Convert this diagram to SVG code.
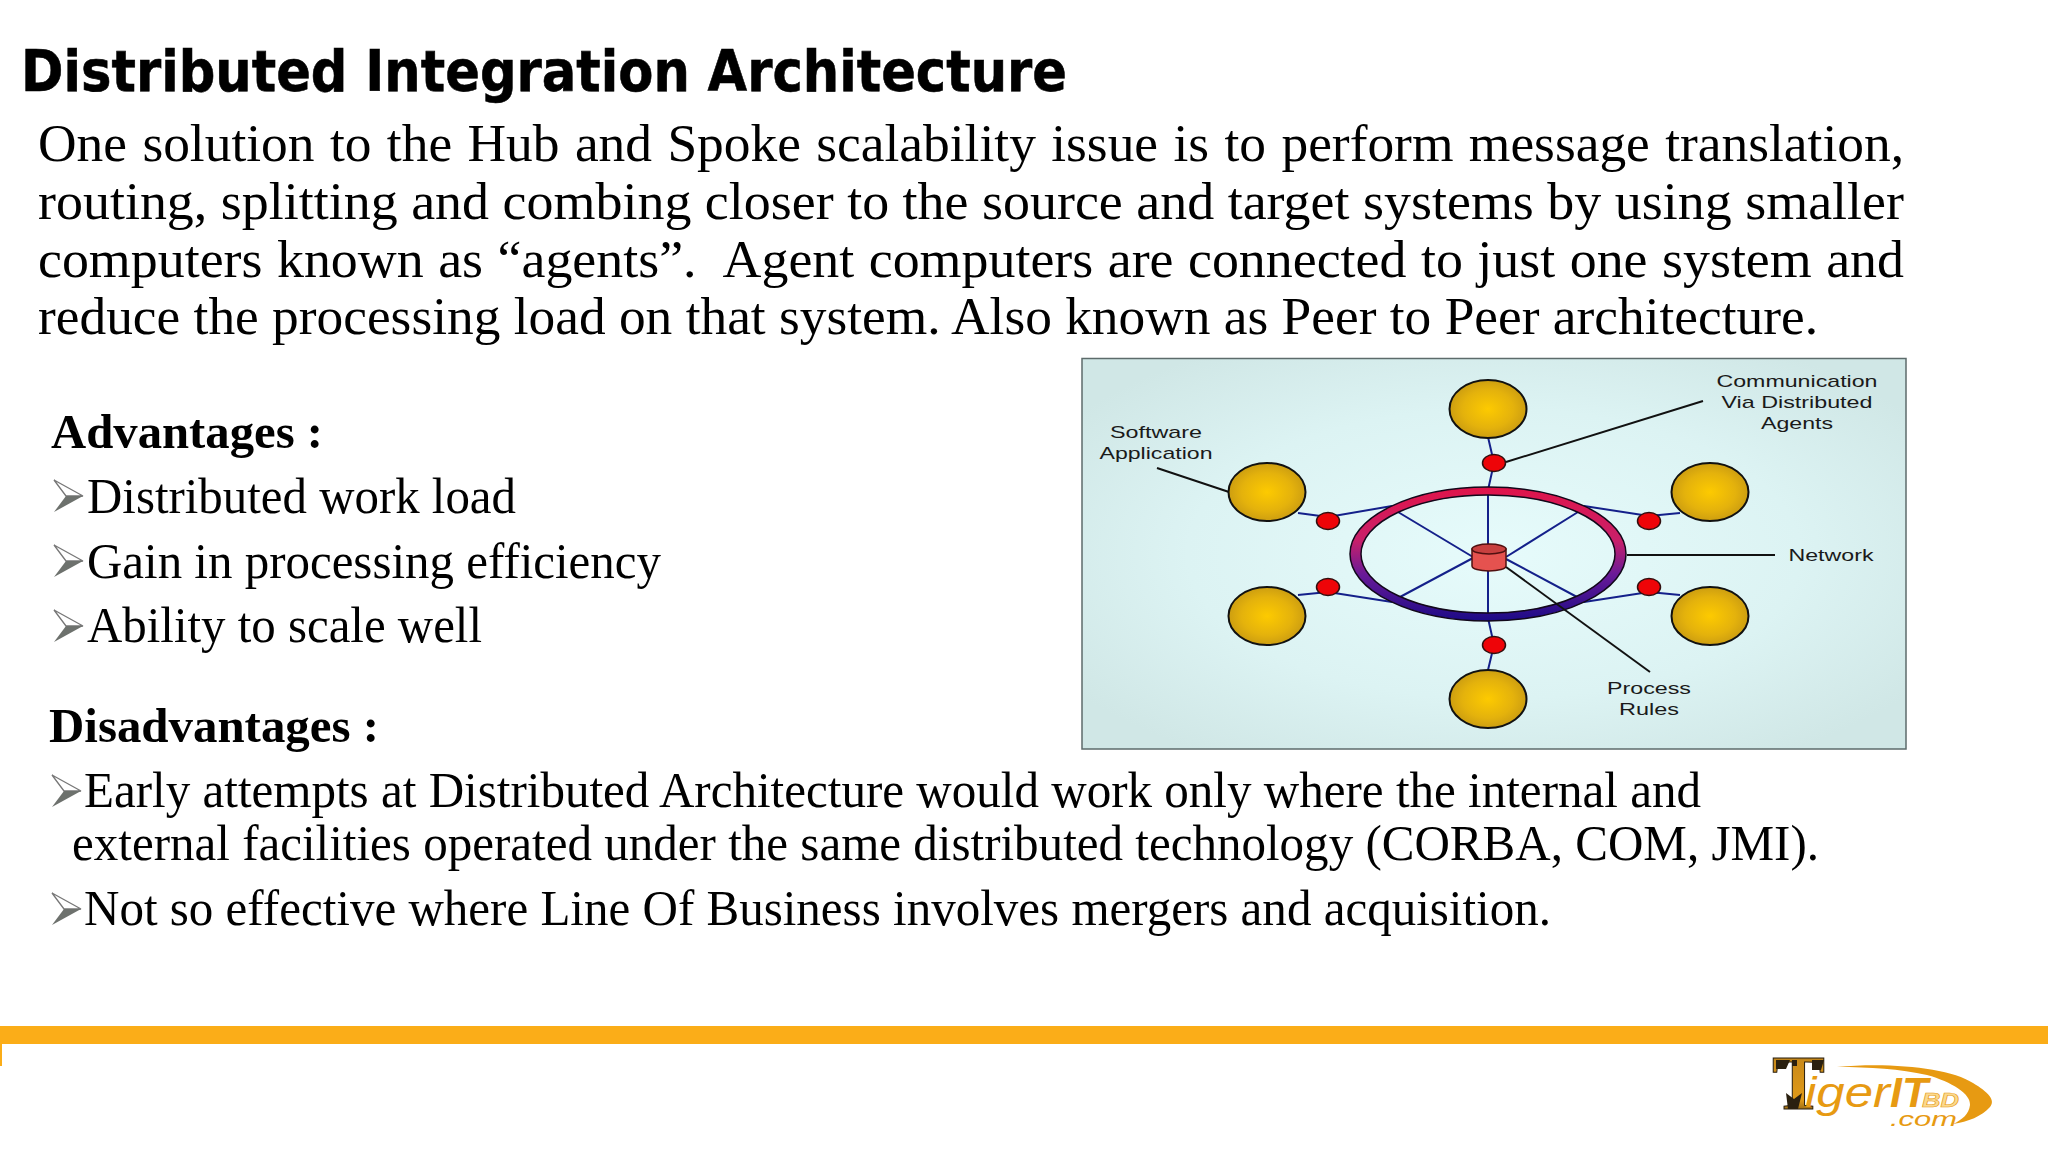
<svg xmlns="http://www.w3.org/2000/svg" width="2048" height="1152" viewBox="0 0 2048 1152">
<defs>
<radialGradient id="bg" cx="50%" cy="50%" r="62%"><stop offset="0" stop-color="#e6fbfb"/><stop offset="0.6" stop-color="#dcf3f3"/><stop offset="1" stop-color="#d0e7e6"/></radialGradient>
<radialGradient id="gold" cx="50%" cy="50%" r="55%"><stop offset="0" stop-color="#fdca00"/><stop offset="0.6" stop-color="#e4b20c"/><stop offset="1" stop-color="#c69812"/></radialGradient>
<linearGradient id="ring" x1="0" y1="0" x2="0" y2="1"><stop offset="0" stop-color="#e0144a"/><stop offset="0.4" stop-color="#c8206a"/><stop offset="0.65" stop-color="#6a1a98"/><stop offset="1" stop-color="#1c0a86"/></linearGradient>
<linearGradient id="tiger" x1="0" y1="0" x2="0" y2="1"><stop offset="0" stop-color="#4a3814"/><stop offset="0.25" stop-color="#c98a1a"/><stop offset="0.7" stop-color="#e09a18"/><stop offset="1" stop-color="#2a2010"/></linearGradient>
<style>
text{font-family:"Liberation Serif","Times New Roman",serif;fill:#000}
.title{font-family:"DejaVu Sans","Liberation Sans",sans-serif;font-weight:700;font-size:57px;stroke:#000;stroke-width:.6}
.body{font-size:52px}
.head{font-size:48px;font-weight:700}
.item{font-size:50px}
.lab{font-family:"Liberation Sans",Arial,sans-serif;font-size:17px;fill:#1a1a1a;text-anchor:middle}
.app{fill:url(#gold);stroke:#111;stroke-width:2}
.agent{fill:#ee0408;stroke:#301010;stroke-width:1.5}
.link{fill:none;stroke:#14208a;stroke-width:2}
.lead{fill:none;stroke:#111;stroke-width:2}
.bu1{fill:#fff;stroke:#777;stroke-width:1.3}
.bu2{fill:#6d716d}
.logo{font-family:"Liberation Sans",Arial,sans-serif;font-style:italic;fill:#e79a12}
</style>
</defs>
<rect width="2048" height="1152" fill="#fff"/>

<text class="title" x="21" y="91" textLength="1046" lengthAdjust="spacingAndGlyphs">Distributed Integration Architecture</text>

<g id="intro">
<text class="body" x="38" y="161" word-spacing="2" textLength="1866" lengthAdjust="spacingAndGlyphs">One solution to the Hub and Spoke scalability issue is to perform message translation,</text>
<text class="body" x="38" y="219" textLength="1866" lengthAdjust="spacingAndGlyphs">routing, splitting and combing closer to the source and target systems by using smaller</text>
<text class="body" x="38" y="277" word-spacing="1" textLength="1866" lengthAdjust="spacingAndGlyphs" xml:space="preserve">computers known as “agents”.  Agent computers are connected to just one system and</text>
<text class="body" x="38" y="334" textLength="1780" lengthAdjust="spacingAndGlyphs">reduce the processing load on that system. Also known as Peer to Peer architecture.</text>
</g>

<g id="advantages">
<text class="head" x="51" y="448" textLength="272" lengthAdjust="spacingAndGlyphs">Advantages :</text>
<text class="item" x="87" y="513" textLength="429" lengthAdjust="spacingAndGlyphs">Distributed work load</text>
<text class="item" x="87" y="578" textLength="574" lengthAdjust="spacingAndGlyphs">Gain in processing efficiency</text>
<text class="item" x="87" y="642" textLength="395" lengthAdjust="spacingAndGlyphs">Ability to scale well</text>
<g transform="translate(54,480)"><polygon class="bu1" points="0,0 29,16 12,16"/><polygon class="bu2" points="0,32 29,16 12,16"/></g>
<g transform="translate(54,545)"><polygon class="bu1" points="0,0 29,16 12,16"/><polygon class="bu2" points="0,32 29,16 12,16"/></g>
<g transform="translate(54,610)"><polygon class="bu1" points="0,0 29,16 12,16"/><polygon class="bu2" points="0,32 29,16 12,16"/></g>
</g>

<g id="disadvantages">
<text class="head" x="49" y="742" textLength="330" lengthAdjust="spacingAndGlyphs">Disadvantages :</text>
<text class="item" x="84" y="807" textLength="1617" lengthAdjust="spacingAndGlyphs">Early attempts at Distributed Architecture would work only where the internal and</text>
<text class="item" x="72" y="860" textLength="1747" lengthAdjust="spacingAndGlyphs">external facilities operated under the same distributed technology (CORBA, COM, JMI).</text>
<text class="item" x="84" y="925" textLength="1467" lengthAdjust="spacingAndGlyphs">Not so effective where Line Of Business involves mergers and acquisition.</text>
<g transform="translate(52,775)"><polygon class="bu1" points="0,0 29,16 12,16"/><polygon class="bu2" points="0,32 29,16 12,16"/></g>
<g transform="translate(52,893)"><polygon class="bu1" points="0,0 29,16 12,16"/><polygon class="bu2" points="0,32 29,16 12,16"/></g>
</g>

<g id="figure">
<rect x="1082" y="358.500" width="824" height="390.500" fill="url(#bg)" stroke="#5d6b6b" stroke-width="1.5"/>
</g>

<g id="connectors">
<path class="link" d="M1488 437L1494 463L1488 490M1488 618L1494 645L1488 670"/>
<path class="link" d="M1488 490V620M1398 512L1473 557M1578 512L1506 557M1400 597L1473 558M1577 597L1506 559"/>
<path class="link" d="M1298 513L1328 517L1392 506M1680 513L1649 516L1584 506M1298 595L1328 592L1392 602M1680 595L1649 592L1584 602"/>
<path class="lead" d="M1703 401L1506 462M1157 468L1229 492M1627 555H1775"/>
</g>

<g id="network">
<path d="M1350 554a138 67 0 1 0 276 0a138 67 0 1 0 -276 0ZM1361 554a127 59 0 1 1 254 0a127 59 0 1 1 -254 0Z" fill="url(#ring)" fill-rule="evenodd" stroke="#12081a" stroke-width="1.5"/>
</g>

<g id="process-rules-hub">
<path d="M1472 549V566a17 5 0 0 0 34 0V549Z" fill="#e5524f" stroke="#501010" stroke-width="1.500"/>
<ellipse cx="1489" cy="549" rx="17" ry="5" fill="#c8403f" stroke="#501010" stroke-width="1.500"/>
</g>

<path class="lead" d="M1506 567L1650 672"/>

<g id="app-top"><ellipse class="app" cx="1488" cy="409" rx="38.500" ry="29"/></g>
<g id="app-upper-left"><ellipse class="app" cx="1267" cy="492" rx="38.500" ry="29"/></g>
<g id="app-upper-right"><ellipse class="app" cx="1710" cy="492" rx="38.500" ry="29"/></g>
<g id="app-lower-left"><ellipse class="app" cx="1267" cy="616" rx="38.500" ry="29"/></g>
<g id="app-lower-right"><ellipse class="app" cx="1710" cy="616" rx="38.500" ry="29"/></g>
<g id="app-bottom"><ellipse class="app" cx="1488" cy="699" rx="38.500" ry="29"/></g>

<g id="agent-top"><ellipse class="agent" cx="1494" cy="463" rx="11.500" ry="8.500"/></g>
<g id="agent-upper-left"><ellipse class="agent" cx="1328" cy="521" rx="11.500" ry="8.500"/></g>
<g id="agent-upper-right"><ellipse class="agent" cx="1649" cy="521" rx="11.500" ry="8.500"/></g>
<g id="agent-lower-left"><ellipse class="agent" cx="1328" cy="587" rx="11.500" ry="8.500"/></g>
<g id="agent-lower-right"><ellipse class="agent" cx="1649" cy="587" rx="11.500" ry="8.500"/></g>
<g id="agent-bottom"><ellipse class="agent" cx="1494" cy="645" rx="11.500" ry="8.500"/></g>

<g id="labels">
<text class="lab" x="1797" y="387" textLength="161" lengthAdjust="spacingAndGlyphs">Communication</text>
<text class="lab" x="1797" y="408" textLength="151" lengthAdjust="spacingAndGlyphs">Via Distributed</text>
<text class="lab" x="1797" y="429" textLength="72" lengthAdjust="spacingAndGlyphs">Agents</text>
<text class="lab" x="1156" y="438" textLength="92" lengthAdjust="spacingAndGlyphs">Software</text>
<text class="lab" x="1156" y="459" textLength="113" lengthAdjust="spacingAndGlyphs">Application</text>
<text class="lab" x="1831" y="561" textLength="85" lengthAdjust="spacingAndGlyphs">Network</text>
<text class="lab" x="1649" y="694" textLength="84" lengthAdjust="spacingAndGlyphs">Process</text>
<text class="lab" x="1649" y="715" textLength="60" lengthAdjust="spacingAndGlyphs">Rules</text>
</g>

<g id="footer">
<rect x="0" y="1026" width="2048" height="18" fill="#fbad18"/>
<rect x="0" y="1044" width="2" height="22" fill="#fbad18"/>
</g>

<g id="logo">
<path d="M1837 1067C1890 1062 1950 1068 1973 1083C1988 1092 1996 1100 1990 1107C1982 1116 1968 1122 1953 1124C1962 1120 1969 1114 1970 1105C1971 1094 1952 1082 1927 1075C1900 1069 1870 1067 1837 1067Z" fill="#e79a12"/>
<text x="1772" y="1109" font-size="78" font-weight="700" style="fill:url(#tiger)" stroke="#2a2010" stroke-width="1" textLength="53" lengthAdjust="spacingAndGlyphs">T</text>
<path d="M1776 1060h14l-4 9h-10ZM1812 1060h12l-3 10h-9ZM1786 1093l8 6 8-6-4 16h-10ZM1792 1060h5v6h-5Z" fill="#2a2010"/>
<text class="logo" x="1805" y="1107" font-size="42" textLength="85" lengthAdjust="spacingAndGlyphs">iger</text>
<text class="logo" x="1890" y="1107" font-size="42" font-weight="700" textLength="38" lengthAdjust="spacingAndGlyphs">IT</text>
<text class="logo" x="1922" y="1107" font-size="21" font-weight="700" stroke="#e79a12" stroke-width=".6" textLength="37" lengthAdjust="spacingAndGlyphs" style="fill:#fbd98e">BD</text>
<text class="logo" x="1890" y="1126" font-size="21" textLength="67" lengthAdjust="spacingAndGlyphs">.com</text>
</g>
</svg>
